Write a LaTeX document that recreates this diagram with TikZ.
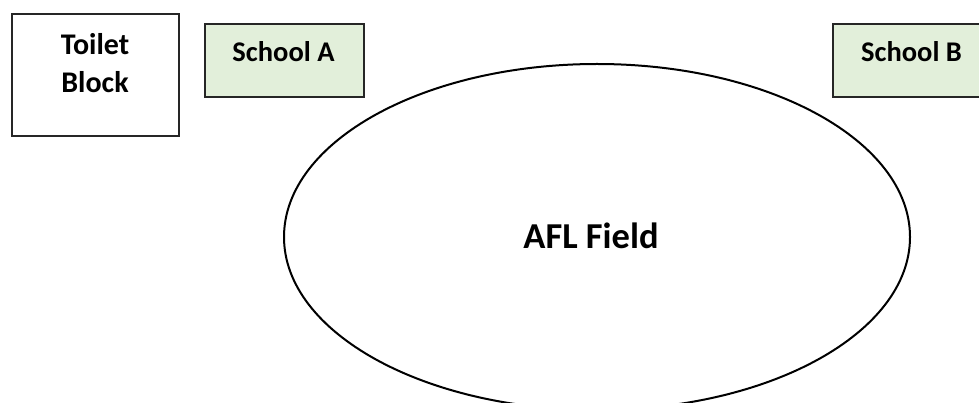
\documentclass[tikz,border=0pt]{standalone}
\usepackage{fontspec}
\setmainfont{Carlito}
\usetikzlibrary{shapes.geometric}
\definecolor{boxgreen}{HTML}{E2EFDA}
\begin{document}
\begin{tikzpicture}[x=1pt,y=-1pt,
  box/.style={draw=black!85,line width=1.6pt,inner sep=0pt,anchor=north west},
  greenbox/.style={box,fill=boxgreen},
  lbl/.style={font=\fontsize{28.5}{34}\selectfont\bfseries,anchor=base,inner sep=0pt},
  biglbl/.style={lbl,font=\fontsize{30}{36}\selectfont\bfseries},
  field/.style={draw=black,line width=2pt,ellipse,inner sep=0pt,minimum width=626pt,minimum height=346pt}]
\useasboundingbox (0,0) rectangle (979,403);
\clip (0,0) rectangle (979,403);
\fill[white] (0,0) rectangle (979,403);
% Toilet block
\node[box,minimum width=167pt,minimum height=122pt] (toilet) at (11,13) {};
\node[biglbl] (toiletA) at (95,55) {Toilet};
\node[biglbl] (toiletB) at (95,93) {Block};
% School A
\node[greenbox,minimum width=159pt,minimum height=73pt] (schoolA) at (204,23) {};
\node[lbl] (schoolAlbl) at (283.5,62) {School A};
% School B
\node[greenbox,minimum width=159pt,minimum height=73pt] (schoolB) at (832,23) {};
\node[lbl] (schoolBlbl) at (911.5,62) {School B};
% Field
\node[field] (afl) at (597,237) {};
\node[font=\fontsize{36.5}{44}\selectfont\bfseries,anchor=base,inner sep=0pt] (afllbl) at (591,248) {AFL Field};
\end{tikzpicture}
\end{document}
